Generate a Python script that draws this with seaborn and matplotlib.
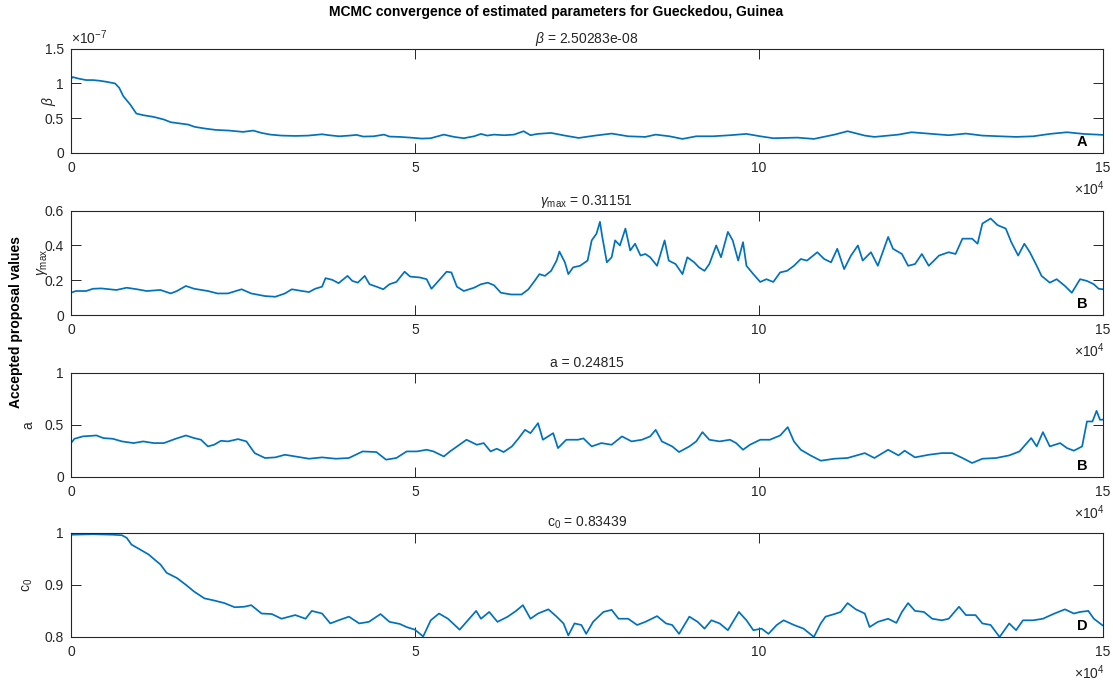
import matplotlib
matplotlib.use("Agg")
import matplotlib.pyplot as plt
from matplotlib.ticker import FuncFormatter, FixedLocator
import numpy as np
import pandas as pd
import seaborn as sns

# ---- MCMC traces (iteration, accepted value) ----
beta_iter = [0, 250, 1200, 2200, 3200, 4200, 5100, 6400, 7000, 7600, 8600, 9500, 10500, 12000,
             13500, 14500, 17000, 18000, 19500, 21000, 23000, 25000, 26500, 27700, 29000, 30600,
             32600, 34500, 36500, 37500, 39000, 40500, 41500, 42500, 44000, 45500, 46300, 47800,
             49300, 51000, 52300, 54200, 55700, 57100, 58600, 59600, 60500, 61500, 63000, 64400,
             65800, 66800, 67800, 69800, 71800, 73800, 76200, 78600, 81000, 83500, 85000, 87000,
             88900, 90900, 93300, 95800, 98200, 100200, 102100, 105600, 108000, 111000, 112900,
             115400, 116800, 120300, 122200, 125200, 127600, 130100, 132500, 135000, 137400,
             139900, 142300, 144800, 147200, 149200, 150000]
beta_e7 = [1.067, 1.091, 1.067, 1.048, 1.048, 1.038, 1.024, 1.000, 0.938, 0.817, 0.697, 0.567,
           0.543, 0.519, 0.481, 0.442, 0.409, 0.375, 0.351, 0.332, 0.322, 0.303, 0.322, 0.288,
           0.264, 0.250, 0.245, 0.250, 0.269, 0.255, 0.240, 0.250, 0.260, 0.236, 0.240, 0.264,
           0.236, 0.231, 0.221, 0.207, 0.212, 0.264, 0.231, 0.212, 0.240, 0.274, 0.250, 0.264,
           0.255, 0.264, 0.313, 0.255, 0.274, 0.288, 0.250, 0.216, 0.250, 0.279, 0.240, 0.231,
           0.264, 0.240, 0.202, 0.240, 0.240, 0.255, 0.274, 0.240, 0.212, 0.221, 0.202, 0.264,
           0.313, 0.250, 0.231, 0.264, 0.298, 0.274, 0.255, 0.279, 0.250, 0.240, 0.231, 0.240,
           0.274, 0.298, 0.274, 0.264, 0.260]

gamma_iter = [0, 700, 2200, 3200, 4400, 5600, 6600, 8100, 9600, 11000, 13000, 14500, 15400, 16700,
              17900, 19900, 21300, 22800, 24800, 26200, 28200, 29700, 31100, 32100, 33600, 34600,
              35500, 36500, 37000, 38000, 38900, 40200, 40900, 41700, 42700, 43400, 44400, 45400,
              46300, 47300, 48500, 49300, 50700, 51700, 52400, 53200, 54600, 55300, 56100, 57100,
              58600, 59600, 60600, 61500, 62500, 64000, 65500, 66500, 67400, 68100, 68900, 69800,
              70600, 71000, 71800, 72300, 73000, 74000, 75100, 75700, 76400, 76900, 77200, 77900,
              78600, 79100, 79800, 80600, 81300, 82000, 82800, 83500, 84200, 85200, 86300, 86900,
              87900, 88900, 89600, 90600, 91300, 92100, 92800, 93800, 94500, 95500, 96200, 97000,
              97700, 98200, 99200, 100200, 101100, 102100, 103100, 104100, 105100, 106100, 107000,
              108500, 109500, 110500, 111400, 112400, 113400, 114400, 115100, 116300, 117300,
              118800, 119500, 120800, 121700, 122700, 123700, 124700, 126200, 127600, 128600,
              129600, 131000, 131800, 132500, 133700, 134700, 135900, 136700, 137700, 138600,
              139400, 140400, 141100, 142300, 143300, 144500, 145500, 146700, 147700, 148700,
              149400, 150000]
gamma_max = [0.128, 0.138, 0.138, 0.151, 0.153, 0.148, 0.144, 0.157, 0.148, 0.138, 0.144, 0.124,
             0.138, 0.167, 0.151, 0.138, 0.124, 0.124, 0.148, 0.124, 0.109, 0.105, 0.124, 0.148,
             0.138, 0.132, 0.151, 0.163, 0.212, 0.202, 0.183, 0.225, 0.196, 0.186, 0.225, 0.177,
             0.163, 0.148, 0.177, 0.190, 0.249, 0.221, 0.216, 0.206, 0.151, 0.186, 0.249, 0.245,
             0.163, 0.138, 0.157, 0.177, 0.186, 0.171, 0.128, 0.118, 0.118, 0.148, 0.196, 0.235,
             0.225, 0.254, 0.313, 0.365, 0.303, 0.235, 0.274, 0.283, 0.313, 0.429, 0.468, 0.536,
             0.458, 0.303, 0.332, 0.429, 0.400, 0.497, 0.371, 0.410, 0.342, 0.351, 0.332, 0.283,
             0.429, 0.313, 0.293, 0.235, 0.332, 0.303, 0.274, 0.254, 0.293, 0.400, 0.332, 0.478,
             0.429, 0.313, 0.419, 0.283, 0.235, 0.190, 0.206, 0.190, 0.245, 0.254, 0.283, 0.322,
             0.313, 0.361, 0.322, 0.303, 0.381, 0.264, 0.342, 0.400, 0.313, 0.361, 0.283, 0.449,
             0.381, 0.351, 0.283, 0.293, 0.351, 0.283, 0.342, 0.361, 0.351, 0.439, 0.439, 0.410,
             0.526, 0.555, 0.517, 0.497, 0.419, 0.342, 0.410, 0.361, 0.283, 0.225, 0.186, 0.206,
             0.167, 0.128, 0.206, 0.196, 0.177, 0.151, 0.148]

a_iter = [0, 500, 1700, 3700, 4700, 6100, 7400, 9100, 10500, 12000, 13500, 15200, 16700, 17900,
          18900, 19900, 20800, 21800, 22800, 24300, 25500, 26700, 28200, 29700, 31100, 32600,
          34600, 36500, 38500, 40400, 42400, 44400, 45800, 47300, 48800, 50300, 51700, 52700,
          54200, 55100, 57500, 59000, 60000, 61000, 61900, 62900, 64100, 65100, 66000, 66800,
          67900, 68600, 70100, 70800, 72000, 73700, 74500, 75700, 77100, 78600, 80100, 81500,
          83000, 84200, 85000, 85900, 87400, 88400, 89900, 90900, 91800, 92800, 94300, 95800,
          96700, 97700, 98700, 100200, 101600, 103100, 104200, 105100, 106100, 107500, 109000,
          111000, 112900, 115400, 116800, 118800, 120300, 121200, 122700, 124700, 126600, 128100,
          129600, 131000, 132500, 134500, 136400, 137900, 139600, 140400, 141300, 142300, 143800,
          144800, 145800, 147000, 147700, 148500, 149100, 149600, 150000]
a_vals = [0.325, 0.366, 0.389, 0.398, 0.373, 0.366, 0.341, 0.325, 0.341, 0.325, 0.325, 0.366,
          0.398, 0.373, 0.357, 0.293, 0.309, 0.347, 0.341, 0.363, 0.341, 0.229, 0.182, 0.188,
          0.213, 0.197, 0.175, 0.188, 0.175, 0.182, 0.245, 0.239, 0.166, 0.182, 0.245, 0.245,
          0.261, 0.245, 0.197, 0.245, 0.357, 0.309, 0.325, 0.245, 0.271, 0.239, 0.293, 0.373,
          0.452, 0.420, 0.516, 0.357, 0.420, 0.277, 0.357, 0.357, 0.370, 0.293, 0.325, 0.309,
          0.389, 0.341, 0.357, 0.389, 0.452, 0.341, 0.293, 0.239, 0.293, 0.341, 0.430, 0.357,
          0.341, 0.357, 0.325, 0.261, 0.309, 0.357, 0.357, 0.398, 0.478, 0.341, 0.261, 0.207,
          0.156, 0.175, 0.182, 0.229, 0.182, 0.261, 0.207, 0.252, 0.188, 0.213, 0.229, 0.229,
          0.182, 0.134, 0.175, 0.182, 0.207, 0.245, 0.373, 0.293, 0.430, 0.293, 0.325, 0.277,
          0.252, 0.293, 0.532, 0.532, 0.634, 0.548, 0.550]

c0_iter = [0, 3200, 6100, 7400, 8100, 8800, 10000, 11300, 12000, 13000, 13900, 15400, 16700, 17900,
           19400, 20800, 22300, 23800, 25200, 26200, 27700, 29200, 30600, 32600, 34100, 35000,
           36500, 37700, 38900, 40400, 41900, 43300, 45000, 46300, 47800, 48800, 50000, 51200,
           52300, 53500, 54800, 56500, 57700, 58900, 59600, 60800, 62000, 63500, 64700, 65700,
           66800, 67900, 69400, 70600, 71600, 72300, 73200, 74200, 74900, 75900, 77400, 78600,
           79600, 81000, 82300, 83500, 85200, 86500, 87400, 88400, 89900, 91100, 92100, 93100,
           94300, 95500, 97100, 98200, 99200, 100400, 101400, 102600, 103600, 105100, 106500,
           108000, 109000, 109700, 111000, 111900, 112900, 114100, 115400, 116100, 117300, 118800,
           120000, 120800, 121700, 122700, 124000, 125200, 126600, 127600, 129100, 130100, 131500,
           132500, 133700, 135000, 136400, 137400, 138400, 139900, 141300, 142800, 144500, 145800,
           146700, 147900, 148700, 149600, 150000]
c0_vals = [0.996, 0.997, 0.996, 0.995, 0.990, 0.977, 0.968, 0.958, 0.950, 0.939, 0.923, 0.913,
           0.900, 0.887, 0.874, 0.870, 0.865, 0.857, 0.858, 0.861, 0.845, 0.844, 0.835, 0.842,
           0.835, 0.850, 0.845, 0.826, 0.832, 0.839, 0.826, 0.829, 0.844, 0.829, 0.825, 0.819,
           0.814, 0.801, 0.832, 0.845, 0.835, 0.814, 0.832, 0.850, 0.835, 0.848, 0.829, 0.839,
           0.850, 0.861, 0.835, 0.845, 0.853, 0.839, 0.826, 0.803, 0.826, 0.823, 0.806, 0.829,
           0.848, 0.852, 0.835, 0.835, 0.823, 0.829, 0.840, 0.826, 0.823, 0.806, 0.839, 0.829,
           0.816, 0.832, 0.826, 0.813, 0.848, 0.832, 0.813, 0.816, 0.806, 0.823, 0.832, 0.823,
           0.816, 0.800, 0.826, 0.839, 0.844, 0.848, 0.865, 0.853, 0.845, 0.819, 0.829, 0.835,
           0.827, 0.848, 0.865, 0.850, 0.848, 0.835, 0.832, 0.835, 0.858, 0.842, 0.842, 0.826,
           0.823, 0.800, 0.826, 0.813, 0.832, 0.832, 0.835, 0.844, 0.853, 0.845, 0.848, 0.850,
           0.835, 0.826, 0.822]

panel_titles = [r"$\beta$ = 2.50283e-08", r"$\gamma_{\rm max}$ = 0.31151",
                "a = 0.24815", r"c$_0$ = 0.83439"]
panel_ylabels = [r"$\beta$", r"$\gamma_{\rm max}$", "a", r"c$_0$"]
panel_tags = ["A", "B", "B", "D"]
x_ticks = [0, 50000, 100000, 150000]

# ---- style ----
sns.set_theme(style="white")
plt.rcParams["font.family"] = ["Liberation Sans", "DejaVu Sans"]
plt.rcParams["mathtext.fontset"] = "custom"
plt.rcParams["mathtext.rm"] = "Liberation Sans"
plt.rcParams["mathtext.it"] = "Liberation Sans:italic"
plt.rcParams["mathtext.bf"] = "Liberation Sans:bold"

INK = "#262626"
LINE = "#0072BD"

fig = plt.figure(figsize=(11.13, 6.82), dpi=100)
fig.patch.set_facecolor("white")

left, width, height = 0.0638, 0.927, 0.153
bottoms = [0.7757, 0.5381, 0.3006, 0.066]

series = [
    (np.array(beta_iter), np.array(beta_e7) * 1e-7, (0, 1.5e-7), [0, 0.5e-7, 1e-7, 1.5e-7], 1e-7),
    (np.array(gamma_iter), np.array(gamma_max), (0, 0.6), [0, 0.2, 0.4, 0.6], 1.0),
    (np.array(a_iter), np.array(a_vals), (0, 1), [0, 0.5, 1], 1.0),
    (np.array(c0_iter), np.array(c0_vals), (0.8, 1), [0.8, 0.9, 1.0], 1.0),
]
ylabel_x = [-0.013, -0.02, -0.035, -0.035]

for i, (xs, ys, ylim, yticks, yscale) in enumerate(series):
    ax = fig.add_axes([left, bottoms[i], width, height])
    df = pd.DataFrame({"iteration": xs, "value": ys})
    sns.lineplot(data=df, x="iteration", y="value", ax=ax, color=LINE,
                 linewidth=1.25, estimator=None, sort=False)
    ax.set_xlim(0, 150000)
    ax.set_ylim(*ylim)
    ax.xaxis.set_major_locator(FixedLocator(x_ticks))
    ax.yaxis.set_major_locator(FixedLocator(yticks))
    ax.xaxis.set_major_formatter(FuncFormatter(lambda v, p: f"{round(v / 1e4, 6):g}"))
    ax.yaxis.set_major_formatter(
        FuncFormatter(lambda v, p, s=yscale: f"{round(v / s, 6):g}"))
    ax.tick_params(direction="in", length=7, width=0.7, colors=INK, labelsize=10,
                   top=True, right=True, bottom=True, left=True)
    ax.tick_params(axis="x", pad=6)
    ax.tick_params(axis="y", pad=5)
    for sp in ax.spines.values():
        sp.set_visible(True)
        sp.set_color(INK)
        sp.set_linewidth(0.8)
    ax.set_xlabel("")
    ax.set_ylabel(panel_ylabels[i], fontsize=10, color=INK)
    ax.yaxis.set_label_coords(ylabel_x[i], 0.5)
    ax.set_title(panel_titles[i], fontsize=10, color=INK, pad=4)
    ax.text(0.985, 0.035, panel_tags[i], transform=ax.transAxes, ha="right",
            va="bottom", fontsize=10.5, fontweight="bold", color="black")
    ax.text(1.002, -0.25, r"$\times10^{4}$", transform=ax.transAxes, ha="right",
            va="top", fontsize=10, color=INK)
    if i == 0:
        ax.text(0.0, 1.015, r"$\times10^{-7}$", transform=ax.transAxes, ha="left",
                va="bottom", fontsize=10, color=INK)
    ax.grid(False)

fig.text(0.5, 0.982, "MCMC convergence of estimated parameters for Gueckedou, Guinea",
         ha="center", va="center", fontsize=10, fontweight="bold", color="black")
fig.text(0.014, 0.528, "Accepted proposal values", rotation=90, ha="center", va="center",
         fontsize=10, fontweight="bold", color="black")

fig.savefig("out.png", dpi=100, facecolor="white")
